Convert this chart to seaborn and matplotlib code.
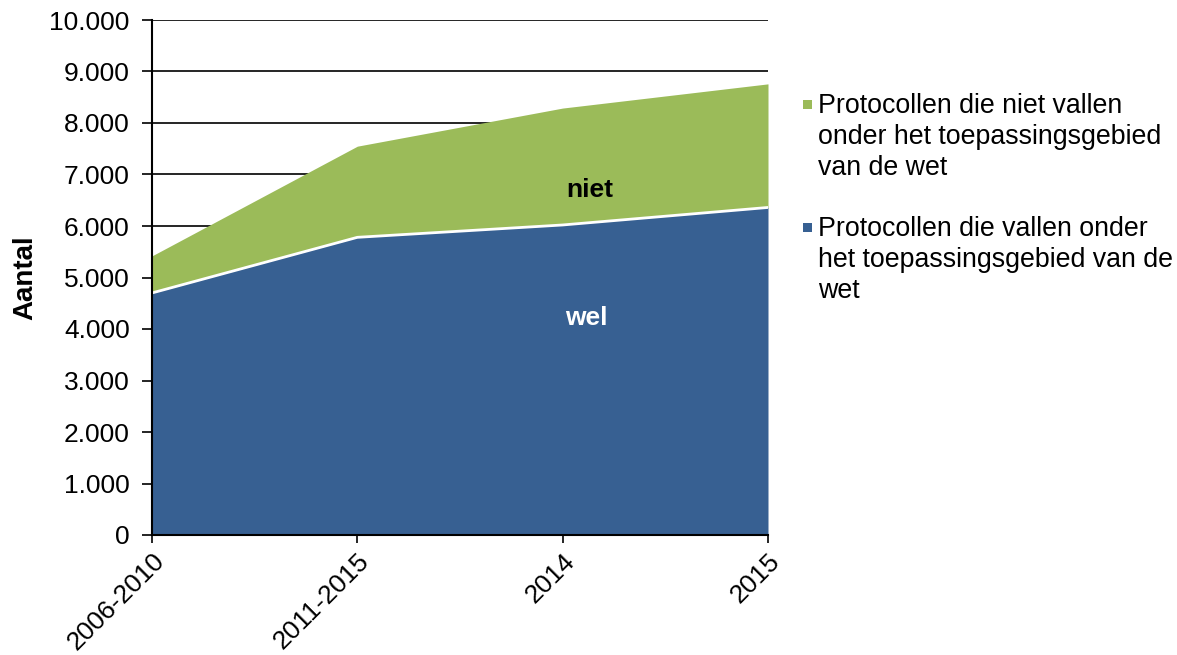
import numpy as np
import pandas as pd
import matplotlib
matplotlib.use("Agg")
import matplotlib.pyplot as plt
from matplotlib.patches import Rectangle
from matplotlib.ticker import FuncFormatter
import seaborn as sns

# Data
periods = ["2006-2010", "2011-2015", "2014", "2015"]
wel = [4700, 5780, 6020, 6360]
niet = [720, 1770, 2270, 2400]

label_niet = "Protocollen die niet vallen\nonder het toepassingsgebied\nvan de wet"
label_wel = "Protocollen die vallen onder\nhet toepassingsgebied van de\nwet"

sns.set_theme(style="white")
plt.rcParams["font.family"] = ["Liberation Sans", "DejaVu Sans"]
plt.rcParams["text.color"] = "black"
plt.rcParams["axes.labelcolor"] = "black"
plt.rcParams["xtick.color"] = "black"
plt.rcParams["ytick.color"] = "black"

blue = "#376092"
green = "#9BBB59"

df = pd.DataFrame({"pos": np.arange(len(periods)), "wel": wel, "niet": niet})
df["totaal"] = df["wel"] + df["niet"]

W, H = 1177, 655
fig = plt.figure(figsize=(W / 100, H / 100), dpi=100)
ax = fig.add_axes([152 / W, 1 - 535 / H, 616 / W, 515 / H])

# Horizontal gridlines behind the areas
for yv in range(1000, 10001, 1000):
    ax.axhline(yv, color="black", lw=1.2, zorder=0)

ax.fill_between(df["pos"], 0, df["wel"], color=blue, lw=0, zorder=2)
ax.fill_between(df["pos"], df["wel"], df["totaal"], color=green, lw=0, zorder=2)
sns.lineplot(data=df, x="pos", y="wel", color="white", lw=2, ax=ax, zorder=3)

ax.set_xlim(0, 3)
ax.set_ylim(0, 10000)
ax.set_xticks(df["pos"])
ax.set_xticklabels(periods, rotation=45, ha="right", rotation_mode="anchor", fontsize=19)
ax.set_yticks(range(0, 10001, 1000))
ax.yaxis.set_major_formatter(FuncFormatter(lambda v, p: f"{int(v):,}".replace(",", ".")))
ax.tick_params(axis="y", labelsize=19, length=7, width=1.2, direction="out", left=True, pad=9)
ax.tick_params(axis="x", length=6, width=1.2, direction="out", bottom=True, pad=4)
ax.set_xlabel("")
ax.set_ylabel("Aantal", fontsize=20, fontweight="bold", labelpad=8)

for side in ["top", "right"]:
    ax.spines[side].set_visible(False)
for side in ["left", "bottom"]:
    ax.spines[side].set_color("black")
    ax.spines[side].set_linewidth(1.5)
    ax.spines[side].set_zorder(5)

ax.text(2.133, 6700, "niet", fontsize=19, fontweight="bold", color="black",
        ha="center", va="center", zorder=4)
ax.text(2.114, 4214, "wel", fontsize=19, fontweight="bold", color="white",
        ha="center", va="center", zorder=4)

# Legend: small squares aligned with the first line of each wrapped label
entries = [(green, label_niet, 93), (blue, label_wel, 216)]
for col, lab, top in entries:
    fig.patches.append(Rectangle((803 / W, 1 - (top + 16) / H), 9 / W, 9 / H,
                                 transform=fig.transFigure, facecolor=col,
                                 edgecolor="none"))
    fig.text(818 / W, 1 - top / H, lab, fontsize=19.3, ha="left", va="top",
             linespacing=1.24, color="black")

fig.savefig("out.png", dpi=100)
